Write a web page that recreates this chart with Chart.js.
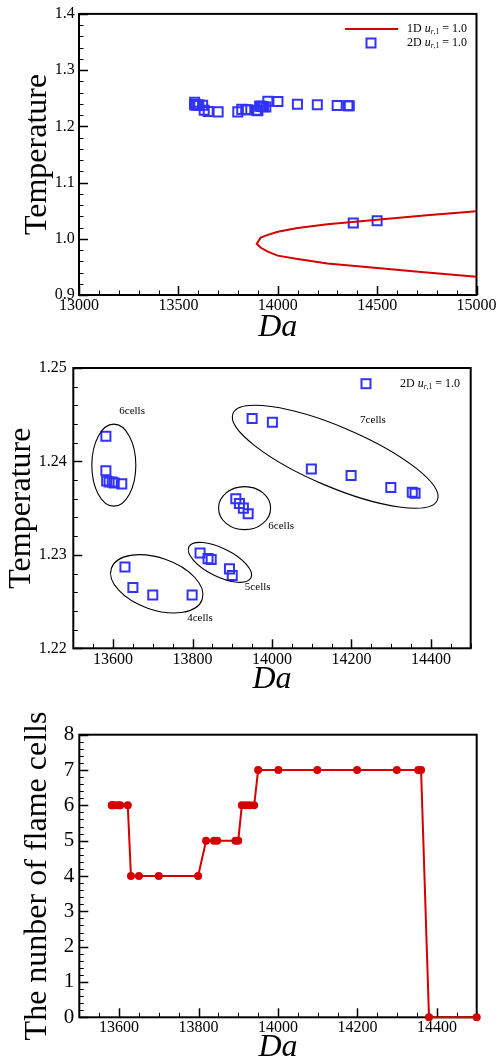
<!DOCTYPE html>
<html><head><meta charset="utf-8">
<script src="https://cdn.jsdelivr.net/npm/chart.js@4.4.0/dist/chart.umd.min.js"></script>
<style>
html,body{margin:0;padding:0;background:#fff;}
body{width:498px;height:1063px;position:relative;overflow:hidden;}
canvas{position:absolute;left:0;}
</style></head><body>
<canvas id="c1" width="498" height="340" style="top:0px"></canvas>
<canvas id="c2" width="498" height="360" style="top:340px"></canvas>
<canvas id="c3" width="498" height="363" style="top:700px"></canvas>
<script>
// ---------------- data ----------------
const xTicks1 = [13000, 13500, 14000, 14500, 15000];
const yTicks1 = [0.9, 1.0, 1.1, 1.2, 1.3, 1.4];
const xTicks2 = [13600, 13800, 14000, 14200, 14400];
const yTicks2 = [1.22, 1.23, 1.24, 1.25];
const xTicks3 = [13600, 13800, 14000, 14200, 14400];
const yTicks3 = [0, 1, 2, 3, 4, 5, 6, 7, 8];

// 1D solution curve (upper branch from right to nose, then lower branch to right)
const da1D   = [15000, 14750, 14500, 14250, 14100, 14000, 13950, 13914, 13894, 13915, 13950, 14000, 14100, 14250, 14500, 14750, 15000];
const temp1D = [1.049, 1.042, 1.034, 1.026, 1.019, 1.0125, 1.007, 1.002, 0.991, 0.984, 0.977, 0.970, 0.964, 0.956, 0.948, 0.940, 0.9325];

// 2D results
const da2D    = [13582, 13582, 13584, 13590, 13598, 13603, 13622, 13630, 13650, 13700, 13799, 13819, 13839, 13847, 13893, 13900, 13909, 13918, 13928, 13940, 13950, 14001, 14099, 14199, 14299, 14353, 14360, 14380, 14500];
const temp2D  = [1.2427, 1.2390, 1.2379, 1.2378, 1.2378, 1.2377, 1.2376, 1.2287, 1.2265, 1.2257, 1.2257, 1.2302, 1.2296, 1.2295, 1.2285, 1.2278, 1.2360, 1.2355, 1.2350, 1.2344, 1.2446, 1.2442, 1.2392, 1.2385, 1.2372, 1.2367, 1.2366, 1.028, 1.032];
const cells2D = [6, 6, 6, 6, 6, 6, 6, 4, 4, 4, 4, 5, 5, 5, 5, 5, 6, 6, 6, 6, 7, 7, 7, 7, 7, 7, 7, 0, 0];

// group annotations (chart 2): centre in data units
const groupEllipses = [
  {da: 13602, t: 1.2396, rx: 22, ry: 41, rot: 0},
  {da: 13931, t: 1.2350, rx: 26, ry: 21.5, rot: 0},
  {da: 13869, t: 1.2292, rx: 34.7, ry: 14.1, rot: 26.5},
  {da: 13710, t: 1.2269, rx: 48, ry: 26, rot: 19},
  {da: 14159, t: 1.2405, rx: 111, ry: 30, rot: 23}
];
const groupLabels = [
  {text: '6cells', da: 13648, t: 1.2454},
  {text: '7cells', da: 14254, t: 1.2444},
  {text: '6cells', da: 14023, t: 1.2331},
  {text: '5cells', da: 13964, t: 1.2266},
  {text: '4cells', da: 13819, t: 1.2232}
];

// ---------------- styling helpers ----------------
const serif = "'Liberation Serif', 'Times New Roman', serif";
const BLUE = 'rgb(50,50,255)';
const RED = '#d40000';

function makeScale(c) {
  return {
    type: 'linear', min: c.min, max: c.max,
    grid: {display: false, drawTicks: false},
    border: {display: false},
    ticks: {autoSkip: false, maxRotation: 0, minRotation: 0, color: '#000',
      font: {family: serif, size: c.fs}, padding: c.pad,
      callback: v => c.fmt(v)},
    afterBuildTicks: s => { s.ticks = c.ticks.map(v => ({value: v})); },
    afterFit: s => { if (c.w != null) s.width = c.w; if (c.h != null) s.height = c.h; },
    title: {display: true, text: c.title, color: '#000',
      font: {family: serif, size: 32, style: c.italic ? 'italic' : 'normal', lineHeight: c.lh},
      padding: c.tpad}
  };
}

const tecAxes = {
  id: 'tecAxes',
  beforeDatasetsDraw(chart, args, o) {
    const {ctx, chartArea: a, scales: {x, y}} = chart;
    ctx.save();
    ctx.strokeStyle = '#000';
    const isMajor = (v, m) => Math.abs(v / m - Math.round(v / m)) < 1e-6;
    const nx = Math.round((x.max - x.min) / o.xMinor);
    for (let i = 0; i <= nx; i++) {
      const v = x.min + i * o.xMinor, mj = isMajor(v, o.xMajor);
      const px = Math.round(x.getPixelForValue(v)) + 0.5;
      ctx.lineWidth = mj ? 1.5 : 1;
      ctx.beginPath(); ctx.moveTo(px, a.bottom); ctx.lineTo(px, a.bottom - (mj ? 9 : 4.5)); ctx.stroke();
    }
    const ny = Math.round((y.max - y.min) / o.yMinor);
    for (let i = 0; i <= ny; i++) {
      const v = y.min + i * o.yMinor, mj = isMajor(v, o.yMajor);
      const py = Math.round(y.getPixelForValue(v)) + 0.5;
      ctx.lineWidth = mj ? 1.5 : 1;
      ctx.beginPath(); ctx.moveTo(a.left, py); ctx.lineTo(a.left + (mj ? 9 : 4.5), py); ctx.stroke();
    }
    ctx.lineWidth = 2;
    ctx.strokeRect(a.left, a.top, a.right - a.left, a.bottom - a.top);
    ctx.restore();
  }
};

function richLabel(ctx, x, y, prefix) {
  const parts = [
    {t: prefix + ' ', f: `12px ${serif}`, dy: 0},
    {t: 'u', f: `italic 12px ${serif}`, dy: 0},
    {t: 'r', f: `italic 7.5px ${serif}`, dy: 3},
    {t: ',1', f: `7.5px ${serif}`, dy: 3},
    {t: ' = 1.0', f: `12px ${serif}`, dy: 0}
  ];
  ctx.fillStyle = '#000';
  ctx.textBaseline = 'middle';
  ctx.textAlign = 'left';
  let cx = x;
  for (const p of parts) {
    ctx.font = p.f;
    ctx.fillText(p.t, cx, y + p.dy);
    cx += ctx.measureText(p.t).width;
  }
}

const legend1 = {
  id: 'legend1',
  afterDraw(chart) {
    const ctx = chart.ctx;
    ctx.save();
    ctx.strokeStyle = RED; ctx.lineWidth = 2;
    ctx.beginPath(); ctx.moveTo(345, 29); ctx.lineTo(398, 29); ctx.stroke();
    ctx.strokeStyle = BLUE; ctx.lineWidth = 2;
    ctx.strokeRect(366.5, 38.5, 9, 9);
    richLabel(ctx, 407, 29, '1D');
    richLabel(ctx, 407, 43, '2D');
    ctx.restore();
  }
};

const legend2 = {
  id: 'legend2',
  afterDraw(chart) {
    const ctx = chart.ctx;
    ctx.save();
    ctx.strokeStyle = BLUE; ctx.lineWidth = 2;
    ctx.strokeRect(361.5, 39.2, 9, 9);
    richLabel(ctx, 400, 43.7, '2D');
    ctx.restore();
  }
};

const groups = {
  id: 'groups',
  afterDatasetsDraw(chart) {
    const {ctx, scales: {x, y}} = chart;
    ctx.save();
    ctx.strokeStyle = '#000'; ctx.lineWidth = 1.1;
    for (const e of groupEllipses) {
      ctx.beginPath();
      ctx.ellipse(x.getPixelForValue(e.da), y.getPixelForValue(e.t), e.rx, e.ry, e.rot * Math.PI / 180, 0, Math.PI * 2);
      ctx.stroke();
    }
    ctx.fillStyle = '#000';
    ctx.font = `11px ${serif}`;
    ctx.textAlign = 'center'; ctx.textBaseline = 'middle';
    for (const l of groupLabels) ctx.fillText(l.text, x.getPixelForValue(l.da), y.getPixelForValue(l.t));
    ctx.restore();
  }
};

const squareDs = (pts) => ({
  data: pts, pointStyle: 'rect', pointRadius: 6.4, pointHoverRadius: 6.4,
  borderColor: BLUE, backgroundColor: 'rgba(0,0,0,0)', pointBorderWidth: 2, borderWidth: 2, showLine: false
});

const common = {
  responsive: false, animation: false, events: [],
  plugins: {legend: {display: false}, tooltip: {enabled: false}}
};

// ---------------- chart 1 ----------------
new Chart(document.getElementById('c1'), {
  type: 'scatter',
  data: {datasets: [
    {data: da1D.map((d, i) => ({x: d, y: temp1D[i]})), showLine: true, borderColor: RED, borderWidth: 2,
     pointRadius: 0, tension: 0, fill: false},
    squareDs(da2D.map((d, i) => ({x: d, y: temp2D[i]})))
  ]},
  options: Object.assign({}, common, {
    layout: {padding: {left: 0, top: 13, right: 21, bottom: 0}},
    scales: {
      x: makeScale({min: 13000, max: 15000, ticks: xTicks1, fs: 16, pad: 1.5, fmt: v => String(v), h: 45,
                    title: 'Da', italic: true, lh: 0.8, tpad: {top: 0, bottom: 0}}),
      y: makeScale({min: 0.9, max: 1.4, ticks: yTicks1, fs: 16, pad: 4.3, fmt: v => v.toFixed(1), w: 79,
                    title: 'Temperature', italic: false, lh: 1.2, tpad: {top: 18, bottom: 0}})
    },
    plugins: Object.assign({}, common.plugins, {tecAxes: {xMinor: 100, xMajor: 500, yMinor: 0.02, yMajor: 0.1}})
  }),
  plugins: [tecAxes, legend1]
});

// ---------------- chart 2 ----------------
new Chart(document.getElementById('c2'), {
  type: 'scatter',
  data: {datasets: [squareDs(da2D.map((d, i) => ({x: d, y: temp2D[i]})))]},
  options: Object.assign({}, common, {
    layout: {padding: {left: 0, top: 28, right: 27.3, bottom: 0}},
    scales: {
      x: makeScale({min: 13500, max: 14500, ticks: xTicks2, fs: 16, pad: 2, fmt: v => String(v), h: 51.7,
                    title: 'Da', italic: true, lh: 0.8, tpad: {top: 0, bottom: 8}}),
      y: makeScale({min: 1.22, max: 1.25, ticks: yTicks2, fs: 16, pad: 6.6, fmt: v => v.toFixed(2), w: 73.3,
                    title: 'Temperature', italic: false, lh: 1.2, tpad: {top: 2, bottom: 0}})
    },
    plugins: Object.assign({}, common.plugins, {tecAxes: {xMinor: 50, xMajor: 200, yMinor: 0.002, yMajor: 0.01}})
  }),
  plugins: [tecAxes, groups, legend2]
});

// ---------------- chart 3 ----------------
new Chart(document.getElementById('c3'), {
  type: 'scatter',
  data: {datasets: [{
    data: da2D.map((d, i) => ({x: d, y: cells2D[i]})), showLine: true, borderColor: RED, backgroundColor: RED,
    borderWidth: 2, pointRadius: 4, pointBorderWidth: 0, pointBackgroundColor: RED, tension: 0, clip: false
  }]},
  options: Object.assign({}, common, {
    layout: {padding: {left: 0, top: 34.7, right: 21.3, bottom: 0}},
    scales: {
      x: makeScale({min: 13500, max: 14500, ticks: xTicks3, fs: 16, pad: 1, fmt: v => String(v), h: 45.7,
                    title: 'Da', italic: true, lh: 0.8, tpad: {top: 0, bottom: 2.7}}),
      y: makeScale({min: 0, max: 8, ticks: yTicks3, fs: 21, pad: 5, fmt: v => String(v), w: 79.3,
                    title: 'The nunber of flame cells', italic: false, lh: 1.2, tpad: {top: 18, bottom: 0}})
    },
    plugins: Object.assign({}, common.plugins, {tecAxes: {xMinor: 50, xMajor: 200, yMinor: 0.2, yMajor: 1}})
  }),
  plugins: [tecAxes]
});
</script>
</body></html>
